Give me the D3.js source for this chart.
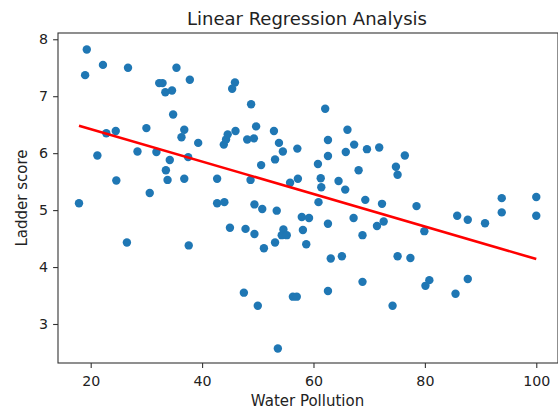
<!DOCTYPE html>
<html>
<head>
<meta charset="utf-8">
<script src="https://cdn.jsdelivr.net/npm/d3@7"></script>
<style>
  body { margin: 0; background: #fff; }
  svg text { font-family: "DejaVu Sans", sans-serif; fill: #222; }
</style>
</head>
<body>
<div class="chart"></div>
<script>

// water pollution (x) and ladder score (y)
var waterPollution = [19.3, 19.0, 22.2, 26.7, 35.4, 37.8, 32.3, 32.9, 33.4, 34.6,
	34.8, 30.0, 22.8, 24.5, 36.8, 36.3, 39.3, 43.9, 44.3, 44.6,
	21.2, 28.4, 31.8, 34.2, 37.5, 33.5, 33.8, 36.8, 24.6, 42.7,
	30.6, 17.9, 42.7, 44.0, 45.0, 26.5, 37.6, 45.9, 45.4, 48.8,
	62.1, 46.0, 49.7, 48.1, 49.3, 52.9, 53.8, 54.5, 53.1, 57.1,
	50.6, 48.7, 55.8, 57.2, 60.8, 62.6, 62.6, 61.3, 61.4, 64.5,
	65.7, 66.1, 67.3, 65.8, 69.6, 71.8, 68.1, 69.3, 72.3, 49.4,
	76.4, 74.8, 75.1, 93.8, 100, 78.5, 72.6, 79.9, 85.8, 87.7,
	90.8, 93.8, 100, 75.1, 77.4, 80.8, 80.1, 87.7, 85.5, 74.2,
	50.8, 53.4, 60.9, 47.8, 49.4, 54.6, 54.3, 55.2, 57.9, 59.2,
	58.1, 53.1, 51.1, 58.7, 62.6, 67.2, 71.4, 68.8, 63.1, 65.1,
	68.8, 47.5, 50.0, 56.3, 57.0, 62.6, 53.6];

var ladderScore = [7.82, 7.37, 7.55, 7.50, 7.50, 7.29, 7.23, 7.23, 7.07, 7.10,
	6.68, 6.44, 6.35, 6.39, 6.41, 6.28, 6.18, 6.15, 6.24, 6.33,
	5.96, 6.03, 6.02, 5.88, 5.93, 5.70, 5.53, 5.55, 5.52, 5.55,
	5.30, 5.12, 5.12, 5.14, 4.69, 4.43, 4.38, 7.24, 7.13, 6.86,
	6.78, 6.39, 6.47, 6.24, 6.26, 6.39, 6.18, 6.03, 5.89, 6.08,
	5.79, 5.53, 5.48, 5.55, 5.81, 6.23, 5.95, 5.56, 5.40, 5.51,
	5.36, 6.41, 6.15, 6.02, 6.07, 6.10, 5.70, 5.18, 5.11, 5.10,
	5.96, 5.76, 5.62, 5.21, 5.23, 5.07, 4.80, 4.63, 4.90, 4.83,
	4.77, 4.96, 4.90, 4.19, 4.16, 3.77, 3.67, 3.79, 3.53, 3.32,
	5.02, 4.99, 5.14, 4.67, 4.58, 4.66, 4.56, 4.56, 4.88, 4.86,
	4.65, 4.43, 4.33, 4.40, 4.76, 4.86, 4.72, 4.56, 4.15, 4.19,
	3.74, 3.55, 3.32, 3.48, 3.48, 3.58, 2.57];

var xTicks = [20, 40, 60, 80, 100];
var yTicks = [3, 4, 5, 6, 7, 8];

var points = waterPollution.map(function(d, i){
	return {x: d, y: ladderScore[i]};
});

// least squares fit
var mx = d3.mean(waterPollution), my = d3.mean(ladderScore);
var sxy = d3.sum(points, function(p){ return (p.x - mx) * (p.y - my); });
var sxx = d3.sum(points, function(p){ return (p.x - mx) * (p.x - mx); });
var slope = sxy / sxx;
var intercept = my - slope * mx;
var fitLine = d3.extent(waterPollution).map(function(x){
	return {x: x, y: intercept + slope * x};
});

var width = 558, height = 412;
var padLeft = 58, padRight = 558, padTop = 33, padBottom = 363;

var svg = d3.select(".chart")
	.append("svg")
	.attr("width", width)
	.attr("height", height);

var x = d3.scaleLinear().domain([14.13, 103.9]).range([padLeft, padRight]);
var y = d3.scaleLinear().domain([2.315, 8.11]).range([padBottom, padTop]);

// dots
svg.append("g")
	.selectAll("circle")
	.data(points)
	.enter()
	.append("circle")
	.attr("cx", function(d){ return x(d.x); })
	.attr("cy", function(d){ return y(d.y); })
	.attr("r", 4.2)
	.attr("fill", "#1f77b4");

// regression line
svg.append("path")
	.datum(fitLine)
	.attr("fill", "none")
	.attr("stroke", "#ff0000")
	.attr("stroke-width", 2.6)
	.attr("d", d3.line()
		.x(function(d){ return x(d.x); })
		.y(function(d){ return y(d.y); }));

// frame
svg.append("rect")
	.attr("x", padLeft)
	.attr("y", padTop)
	.attr("width", padRight - padLeft)
	.attr("height", padBottom - padTop)
	.attr("fill", "none")
	.attr("stroke", "#333")
	.attr("stroke-width", 1.1);

var xAxis = svg.append("g")
	.attr("transform", "translate(0," + padBottom + ")")
	.call(d3.axisBottom(x).tickValues(xTicks).tickSize(4.9).tickPadding(8.5).tickFormat(d3.format("d")));
var yAxis = svg.append("g")
	.attr("transform", "translate(" + padLeft + ",0)")
	.call(d3.axisLeft(y).tickValues(yTicks).tickSize(4.9).tickPadding(5).tickFormat(d3.format("d")));

[xAxis, yAxis].forEach(function(a){
	a.select(".domain").remove();
	a.selectAll("line").attr("stroke", "#333").attr("stroke-width", 1.1);
	a.selectAll("text")
		.attr("font-size", "14.2px")
		.attr("font-family", "DejaVu Sans, sans-serif")
		.attr("fill", "#222");
});

svg.append("text")
	.attr("x", 307)
	.attr("y", 25)
	.attr("text-anchor", "middle")
	.attr("font-size", "18px")
	.text("Linear Regression Analysis");

svg.append("text")
	.attr("x", 307.5)
	.attr("y", 406)
	.attr("text-anchor", "middle")
	.attr("font-size", "15px")
	.text("Water Pollution");

svg.append("text")
	.attr("transform", "translate(27," + ((padTop + padBottom) / 2) + ") rotate(-90)")
	.attr("text-anchor", "middle")
	.attr("font-size", "15px")
	.text("Ladder score");

</script>
</body>
</html>
